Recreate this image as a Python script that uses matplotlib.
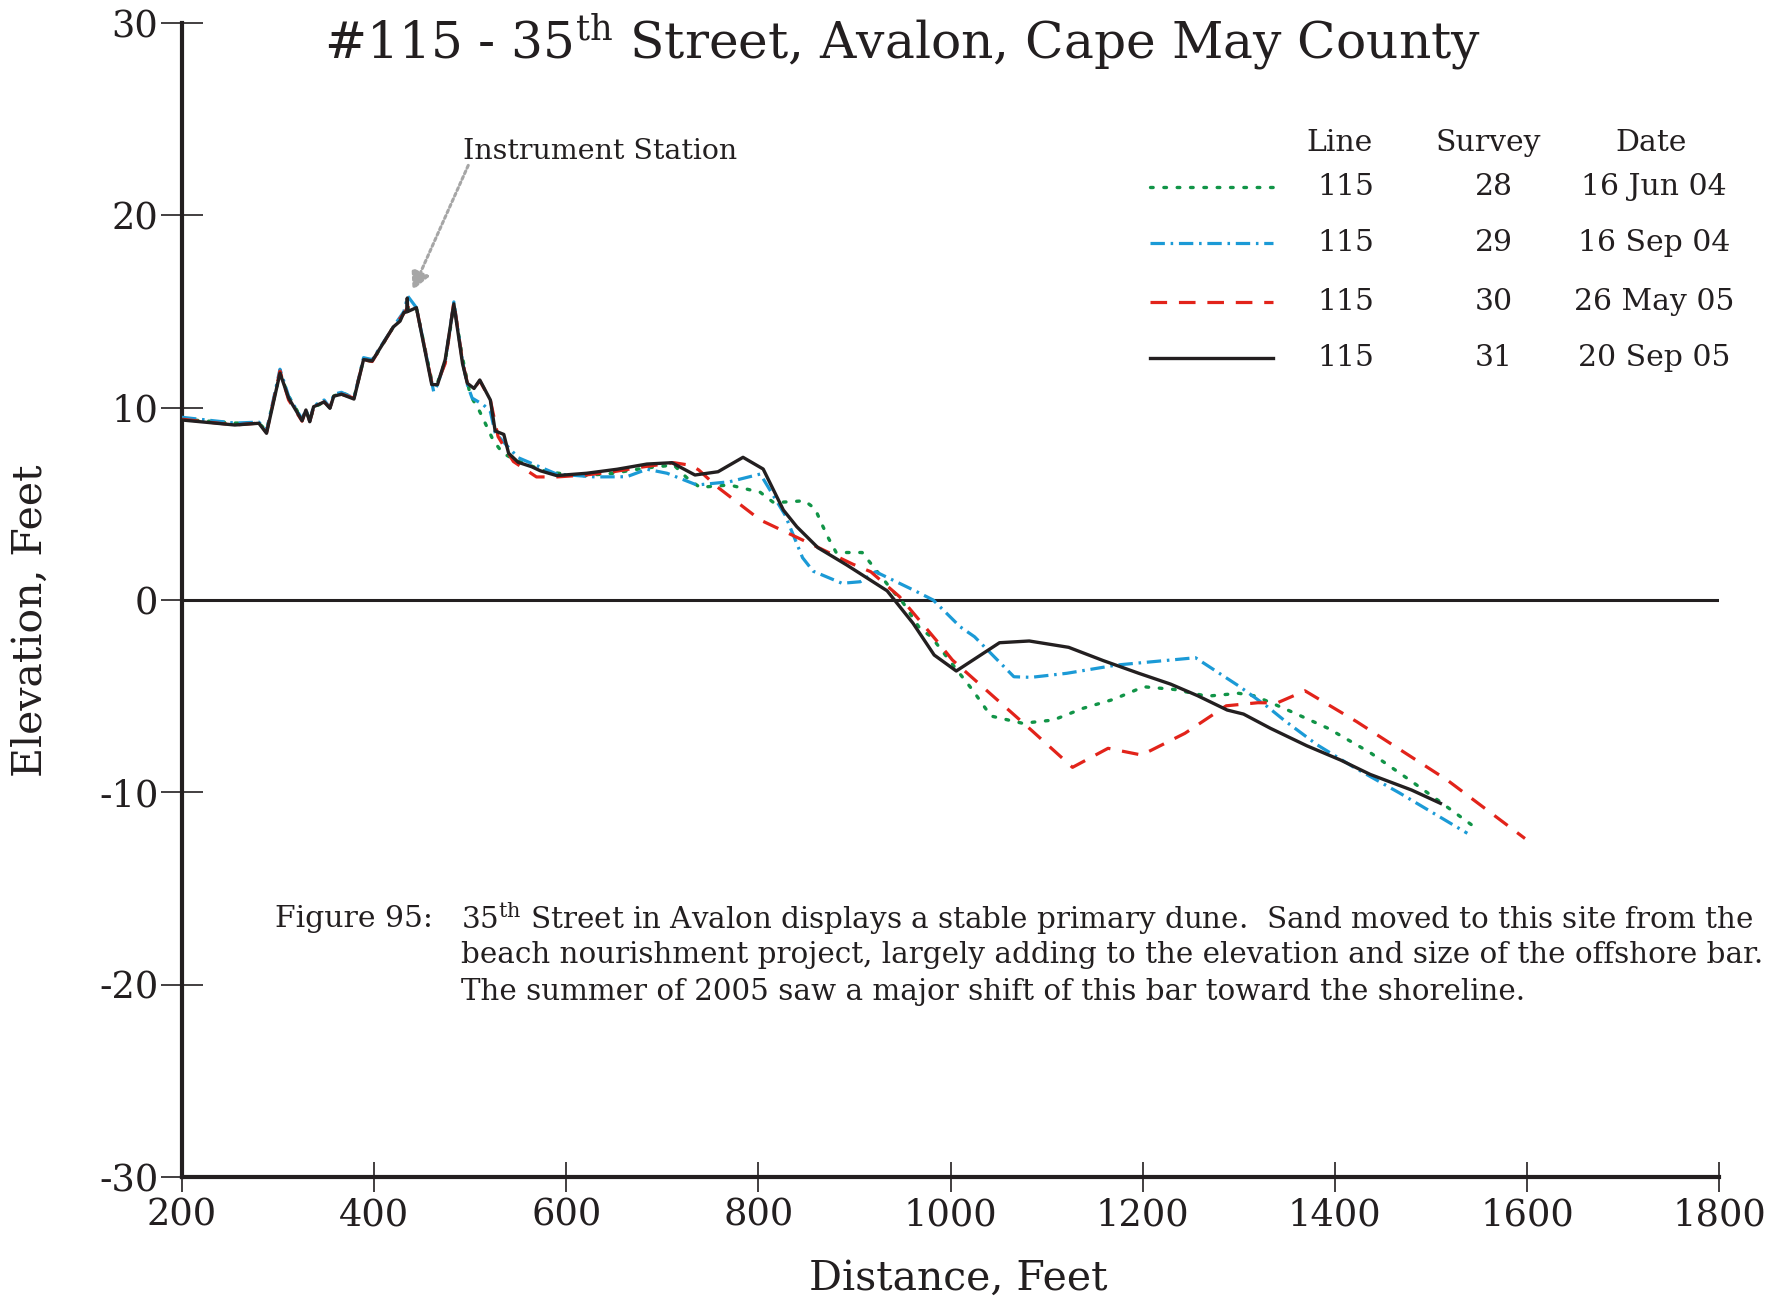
import matplotlib.pyplot as plt

plt.rcParams['font.family'] = 'DejaVu Serif'
plt.rcParams['mathtext.fontset'] = 'dejavuserif'
plt.rcParams['axes.unicode_minus'] = False

# survey 28 - 16 Jun 04
x28 = [200, 255, 280, 288, 302, 311, 325, 329, 333, 337, 348, 354, 358, 366, 379, 389, 398, 420, 431, 436,
       444, 460, 466, 474, 483, 492, 500, 510, 517, 524, 534, 548, 580, 614, 649, 680, 712, 725, 739, 770,
       802, 816, 848, 859, 866, 873, 881, 908, 918, 939, 951, 968, 980, 1004, 1023, 1042, 1075, 1107, 1138,
       1170, 1201, 1233, 1267, 1300, 1317, 1347, 1378, 1393, 1437, 1478, 1506, 1546]
y28 = [9.4, 9.2, 9.2, 8.8, 11.8, 10.6, 9.4, 9.9, 9.3, 10.0, 10.3, 10.0, 10.6, 10.8, 10.5, 12.5, 12.4, 14.2, 14.9, 15.2,
       15.2, 11.4, 11.3, 12.4, 15.3, 12.6, 10.66, 9.79, 9.05, 8.3, 7.63, 7.26, 6.67, 6.45, 6.59, 6.85, 7.02, 6.38, 5.86, 5.98,
       5.6, 5.06, 5.16, 4.75, 3.95, 3.21, 2.47, 2.47, 1.84, 0.52, -0.17, -1.47, -1.91, -3.47, -4.68, -6.03, -6.41, -6.24, -5.63,
       -5.16, -4.51, -4.65, -5.0, -4.85, -4.99, -5.63, -6.33, -6.67, -7.94, -9.36, -10.36, -11.82]

# survey 29 - 16 Sep 04
x29 = [200, 255, 280, 288, 302, 311, 325, 329, 333, 337, 348, 354, 358, 366, 379, 389, 398, 420, 431, 435,
       444, 462, 466, 474, 483, 492, 497, 502, 514, 521, 526, 535, 550, 590, 630, 663, 684, 705, 736, 770,
       802, 828, 846, 857, 887, 906, 922, 963, 982, 1010, 1025, 1066, 1084, 1121, 1173, 1255, 1301, 1330,
       1347, 1382, 1419, 1468, 1538]
y29 = [9.5, 9.2, 9.25, 8.8, 12.0, 10.6, 9.4, 9.9, 9.3, 10.1, 10.4, 10.0, 10.7, 10.8, 10.5, 12.6, 12.5, 14.2, 15.0, 15.8,
       15.2, 10.83, 11.2, 12.4, 15.5, 12.4, 11.2, 10.5, 10.14, 9.8, 8.7, 8.2, 7.4, 6.55, 6.4, 6.41, 6.8, 6.59, 5.98, 6.15,
       6.55, 4.4, 2.2, 1.5, 0.87, 0.95, 1.47, 0.48, 0.0, -1.39, -1.91, -3.99, -4.02, -3.81, -3.38, -3.0, -4.5, -5.55,
       -6.24, -7.54, -8.67, -10.05, -12.13]

# survey 30 - 26 May 05
x30 = [200, 255, 280, 288, 302, 311, 325, 329, 333, 337, 348, 354, 358, 366, 379, 389, 398, 420, 431, 436,
       444, 460, 466, 474, 483, 492, 497, 504, 510, 521, 529, 535, 545, 569, 590, 620, 649, 677, 712, 730,
       738, 757, 802, 857, 898, 917, 947, 985, 1002, 1084, 1127, 1164, 1199, 1244, 1287, 1320, 1340, 1369,
       1423, 1517, 1598]
y30 = [9.4, 9.1, 9.2, 8.7, 11.9, 10.4, 9.3, 9.9, 9.3, 10.0, 10.3, 10.0, 10.6, 10.7, 10.5, 12.5, 12.4, 14.2, 14.9, 15.3,
       15.2, 11.3, 11.3, 12.3, 15.5, 12.4, 11.3, 11.0, 11.4, 10.4, 8.5, 8.0, 7.2, 6.4, 6.4, 6.5, 6.67, 6.9, 7.14, 7.0,
       6.76, 5.89, 4.16, 2.86, 1.87, 1.47, 0.17, -2.08, -3.12, -6.76, -8.7, -7.71, -8.06, -6.93, -5.5, -5.34, -5.35, -4.72,
       -6.33, -9.36, -12.4]

# survey 31 - 20 Sep 05
x31 = [200, 255, 280, 288, 302, 311, 325, 329, 333, 337, 348, 354, 358, 366, 379, 389, 398, 420, 427, 431,
       434, 434.5, 435, 444, 460, 466, 474, 483, 492, 497, 504, 510, 521, 526, 535, 540, 550, 564, 573, 590,
       621, 653, 684, 710, 734, 758, 784, 805, 826, 840, 862, 892, 934, 961, 983, 1006, 1051, 1082, 1123,
       1159, 1196, 1229, 1257, 1288, 1305, 1333, 1371, 1406, 1437, 1480, 1510]
y31 = [9.36, 9.1, 9.19, 8.67, 11.8, 10.5, 9.32, 9.88, 9.27, 10.05, 10.3, 9.97, 10.6, 10.7, 10.45, 12.5, 12.43, 14.2, 14.5, 14.95,
       14.98, 15.7, 15.0, 15.2, 11.2, 11.2, 12.5, 15.4, 12.3, 11.27, 11.0, 11.44, 10.4, 8.79, 8.61, 7.63, 7.16, 6.93, 6.72, 6.47,
       6.59, 6.8, 7.07, 7.14, 6.5, 6.67, 7.42, 6.81, 4.68, 3.81, 2.72, 1.82, 0.48, -1.21, -2.86, -3.69, -2.22, -2.13, -2.46,
       -3.15, -3.81, -4.37, -4.97, -5.72, -5.93, -6.67, -7.58, -8.32, -9.07, -9.88, -10.57]

line_no = ['115', '115', '115', '115']
surveys = ['28', '29', '30', '31']
dates = ['16 Jun 04', '16 Sep 04', '26 May 05', '20 Sep 05']

green = '#119447'
blue = '#1b9ad6'
red = '#e2231a'
black = '#231f20'
styles = [
    dict(color=green, lw=2.4, ls=(0, (0.8, 3.2)), dash_capstyle='round'),
    dict(color=blue, lw=2.3, ls=(0, (4.5, 1.8, 0.8, 1.8))),
    dict(color=red, lw=2.3, ls=(0, (5.2, 3.7))),
    dict(color=black, lw=2.4, ls='-'),
]

fig = plt.figure(figsize=(17.86, 13.01), dpi=100)
ax = fig.add_axes([0.1019, 0.0953, 0.8606, 0.887])

ax.axhline(0, color=black, lw=2.2, zorder=1)
for (xs, ys), st in zip([(x28, y28), (x29, y29), (x30, y30), (x31, y31)], styles):
    ax.plot(xs, ys, zorder=3, **st)

ax.set_xlim(200, 1800)
ax.set_ylim(-30, 30)
ax.set_xticks(range(200, 1801, 200))
ax.set_yticks(range(-30, 31, 10))
ax.spines['top'].set_visible(False)
ax.spines['right'].set_visible(False)
for s in ['left', 'bottom']:
    ax.spines[s].set_linewidth(3)
    ax.spines[s].set_color(black)
ax.tick_params(axis='x', direction='inout', length=22, width=1.2, labelsize=26.5, pad=4, colors=black)
ax.tick_params(axis='y', direction='inout', length=30, width=1.2, labelsize=26.5, pad=2, colors=black)

fig.text(0.5364, 0.0169, 'Distance, Feet', fontsize=29.5, ha='center', va='center', color=black)
fig.text(0.0174, 0.5227, 'Elevation, Feet', fontsize=29.5, ha='center', va='center',
         rotation=90, color=black)

fig.text(0.505, 0.968, r'#115 - 35$^{\rm th}$ Street, Avalon, Cape May County',
         ha='center', va='center', fontsize=36.2, color=black)

# instrument station marker
ax.annotate('', xy=(440, 16.1), xytext=(498, 22.6),
            arrowprops=dict(arrowstyle='-|>', color='#a6a6a6', lw=2.2, ls=(0, (1, 1)),
                            mutation_scale=28, shrinkA=0, shrinkB=0))
ax.text(493, 23.3, 'Instrument Station', fontsize=20.5, va='center', ha='left', color=black)

# legend table
fs_leg = 21.5
ax.text(1405, 23.76, 'Line', fontsize=fs_leg, ha='center', va='center', color=black)
ax.text(1560, 23.76, 'Survey', fontsize=fs_leg, ha='center', va='center', color=black)
ax.text(1729, 23.76, 'Date', fontsize=fs_leg, ha='center', va='center', color=black)
row_y = [21.5, 18.54, 15.52, 12.56]
for ry, st, ln, sv, dt in zip(row_y, styles, line_no, surveys, dates):
    ax.plot([1208, 1336], [ry, ry], **st)
    ax.text(1412, ry, ln, fontsize=fs_leg, ha='center', va='center', color=black)
    ax.text(1566, ry, sv, fontsize=fs_leg, ha='center', va='center', color=black)
    ax.text(1732, ry, dt, fontsize=fs_leg, ha='center', va='center', color=black)

# caption
fs_cap = 21.2
ax.text(297, -16.59, 'Figure 95:', fontsize=21.5, ha='left', va='center', color=black)
cap = [r'35$^{\rm th}$ Street in Avalon displays a stable primary dune.  Sand moved to this site from the',
       'beach nourishment project, largely adding to the elevation and size of the offshore bar.',
       'The summer of 2005 saw a major shift of this bar toward the shoreline.']
for cy, line in zip([-16.59, -18.48, -20.38], cap):
    ax.text(490, cy, line, fontsize=fs_cap, ha='left', va='center', color=black)

fig.savefig('out.png', dpi=100)
